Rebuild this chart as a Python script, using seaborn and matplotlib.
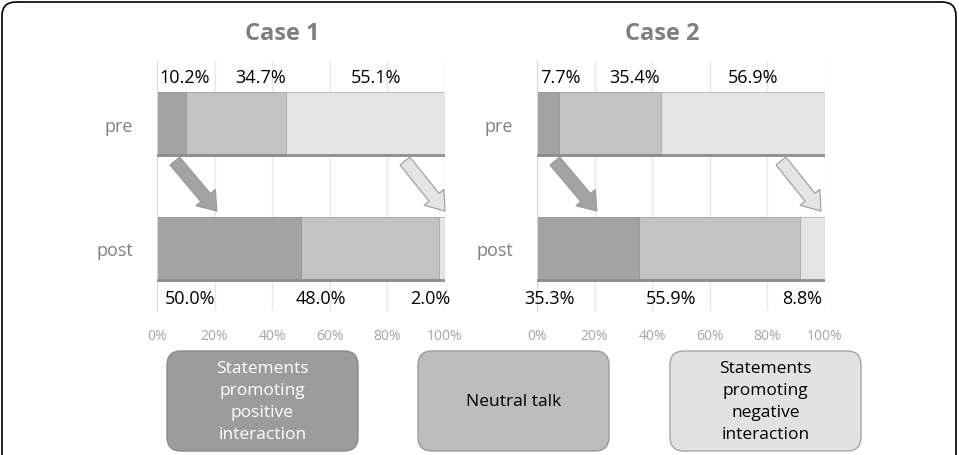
import matplotlib.pyplot as plt
import seaborn as sns
from matplotlib.patches import FancyBboxPatch

# data
cats = ["pre", "post"]
case1_pos = [10.2, 50.0]
case1_neu = [34.7, 48.0]
case1_neg = [55.1, 2.0]
case2_pos = [7.7, 35.3]
case2_neu = [35.4, 55.9]
case2_neg = [56.9, 8.8]
legend_names = ["Statements\npromoting\npositive\ninteraction", "Neutral talk",
                "Statements\npromoting\nnegative\ninteraction"]

# where the % labels sit along the bar (x, in %)
case1_lab_x = [[9.5, 36, 76], [11.5, 57, 95]]
case2_lab_x = [[8, 34, 75], [4.5, 46.5, 92]]
# arrows (start x, end x) in %
case1_arrows = [(6.2, 20.8), (86.1, 100)]
case2_arrows = [(6.2, 20.8), (84.7, 98.6)]

c_dark = "#a3a3a3"
c_mid = "#c3c3c3"
c_light = "#e4e4e4"

sns.set_style("white")
plt.rcParams['font.family'] = ['Open Sans', 'DejaVu Sans']

fig = plt.figure(figsize=(9.59, 4.56), dpi=100)

# background layer in pixel units
bg = fig.add_axes([0, 0, 1, 1])
bg.set_xlim(0, 959)
bg.set_ylim(456, 0)
bg.axis('off')
bg.add_patch(FancyBboxPatch((2, 3), 954, 540, boxstyle="round,pad=0,rounding_size=14",
                            fc='none', ec='black', lw=1.2))

box_fc = ["#9c9c9c", "#bdbdbd", "#e2e2e2"]
box_ec = ["#8a8a8a", "#9a9a9a", "#a5a5a5"]
box_tc = ["white", "black", "black"]
box_x = [167, 418, 670]
for i in range(3):
    bg.add_patch(FancyBboxPatch((box_x[i], 352), 191, 100,
                                boxstyle="round,pad=0,rounding_size=14",
                                fc=box_fc[i], ec=box_ec[i], lw=1))
    bg.text(box_x[i] + 95.5, 402, legend_names[i], ha='center', va='center',
            fontsize=12.5, color=box_tc[i], linespacing=1.5)


def draw_case(ax, pos, neu, neg, title, lab_x, arrows):
    tot = [a + b + c for a, b, c in zip(pos, neu, neg)]
    first2 = [a + b for a, b in zip(pos, neu)]
    sns.barplot(x=tot, y=cats, orient='h', color=c_light, saturation=1, width=0.5,
                edgecolor="#b5b5b5", linewidth=0.6, ax=ax)
    sns.barplot(x=first2, y=cats, orient='h', color=c_mid, saturation=1, width=0.5,
                edgecolor="#a8a8a8", linewidth=0.6, ax=ax)
    sns.barplot(x=pos, y=cats, orient='h', color=c_dark, saturation=1, width=0.5,
                edgecolor="#959595", linewidth=0.6, ax=ax)

    # darker strip along the bottom of each bar
    for p in ax.patches:
        yb = p.get_y() + p.get_height()
        ax.plot([p.get_x(), p.get_x() + p.get_width()], [yb, yb], color="#8e8e8e", lw=2,
                solid_capstyle='butt', zorder=3)

    ax.set_xlim(0, 100)
    ax.set_ylim(1.5, -0.5)
    ax.set_xticks(range(0, 101, 20))
    ax.set_xticklabels([f"{t}%" for t in range(0, 101, 20)])
    ax.xaxis.grid(True, color="#e6e6e6", lw=1)
    ax.set_axisbelow(True)
    ax.tick_params(axis='x', length=0, pad=12, labelsize=10, labelcolor="#a6a6a6")
    ax.tick_params(axis='y', which='major', length=0, pad=17, labelsize=13, labelcolor="#808080")
    ax.set_yticks([-0.5, 0.5, 1.5], minor=True)
    ax.tick_params(axis='y', which='minor', length=5, color="#d0d0d0", direction='out')
    for s in ['top', 'right', 'bottom']:
        ax.spines[s].set_visible(False)
    ax.spines['left'].set_color("#d9d9d9")
    ax.set_xlabel("")
    ax.set_ylabel("")
    ax.set_title(title, fontsize=17, fontweight='bold', color="#7f7f7f", pad=16, x=0.435)

    vals = [[pos[0], neu[0], neg[0]], [pos[1], neu[1], neg[1]]]
    label_y = [-0.37, 1.40]
    for r in range(2):
        for k in range(3):
            ax.text(lab_x[r][k], label_y[r], f"{vals[r][k]:.1f}%", ha='center', va='center',
                    fontsize=13, color='black')

    arrow_fc = [c_dark, c_light]
    arrow_ec = ["#999999", "#9a9a9a"]
    for (x0, x1), fc, ec in zip(arrows, arrow_fc, arrow_ec):
        ax.annotate("", xy=(x1, 0.70), xytext=(x0, 0.30), annotation_clip=False,
                    arrowprops=dict(arrowstyle="simple,head_length=0.9,head_width=1.3,tail_width=0.65",
                                    mutation_scale=14, fc=fc, ec=ec, lw=0.8,
                                    shrinkA=0, shrinkB=0))


ax1 = fig.add_axes([157 / 959, 1 - 312 / 456, 288 / 959, 250 / 456])
draw_case(ax1, case1_pos, case1_neu, case1_neg, "Case 1", case1_lab_x, case1_arrows)
ax2 = fig.add_axes([537 / 959, 1 - 312 / 456, 288 / 959, 250 / 456])
draw_case(ax2, case2_pos, case2_neu, case2_neg, "Case 2", case2_lab_x, case2_arrows)

fig.savefig("out.png", dpi=100)
